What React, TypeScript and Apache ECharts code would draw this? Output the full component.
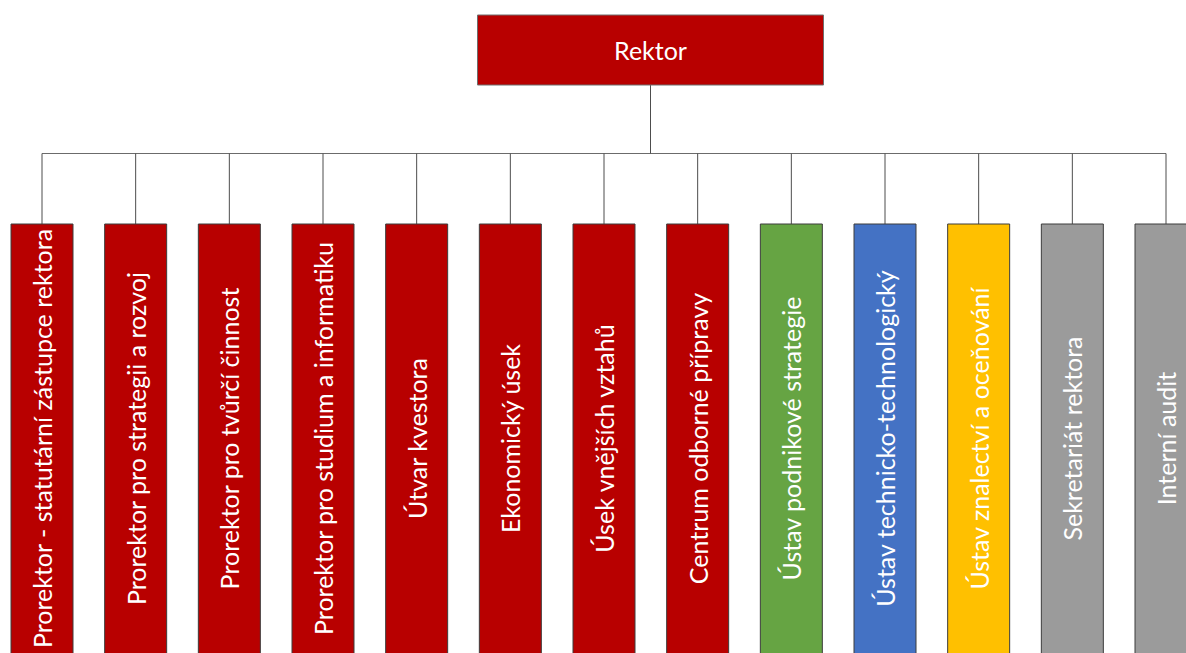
import React, { useEffect, useRef } from "react";
import * as echarts from "echarts";

const topUnit = "Rektor";
const units = [
  "Prorektor - statutární zástupce rektora",
  "Prorektor pro strategii a rozvoj",
  "Prorektor pro tvůrčí činnost",
  "Prorektor pro studium a informatiku",
  "Útvar kvestora",
  "Ekonomický úsek",
  "Úsek vnějších vztahů",
  "Centrum odborné přípravy",
  "Ústav podnikové strategie",
  "Ústav technicko-technologický",
  "Ústav znalectví a oceňování",
  "Sekretariát rektora",
  "Interní audit",
];
const unitTypes = [
  "vedeni", "vedeni", "vedeni", "vedeni", "vedeni", "vedeni", "vedeni", "vedeni",
  "ustavPS", "ustavTT", "ustavZO", "podpora", "podpora",
];

const typeColor: Record<string, string> = {
  vedeni: "#B80000",
  ustavPS: "#66A443",
  ustavTT: "#4472C4",
  ustavZO: "#FFC000",
  podpora: "#9B9B9B",
};

const FONT = "Lato";
const BOX_W = 62;
const BOX_TOP = 224;
const BOX_BOTTOM = 656;
const FORK_Y = 153.5;
const ROOT = { cx: 650.5, top: 15, bottom: 85, w: 346 };

export default function App() {
  const ref = useRef<HTMLDivElement>(null);
  useEffect(() => {
    if (!ref.current) return;
    const chart = echarts.init(ref.current, null, { renderer: "svg" });
    chart.setOption({
      animation: false,
      backgroundColor: "#ffffff",
      grid: { left: 42, right: 20, top: 0, bottom: 0 },
      xAxis: { type: "category", data: units, boundaryGap: false, show: false },
      yAxis: { type: "value", min: 0, max: 1, show: false },
      series: [
        {
          type: "custom",
          silent: true,
          data: [[0, 0]],
          encode: { x: 0, y: 1 },
          renderItem: (params: any, api: any) => {
            const first = api.coord([0, 0])[0];
            const last = api.coord([units.length - 1, 0])[0];
            return {
              type: "group",
              children: [
                {
                  type: "line",
                  shape: { x1: first, y1: FORK_Y, x2: last, y2: FORK_Y },
                  style: { stroke: "#6b6b6b", lineWidth: 1.2 },
                },
                {
                  type: "line",
                  shape: { x1: ROOT.cx, y1: ROOT.bottom, x2: ROOT.cx, y2: FORK_Y },
                  style: { stroke: "#4d4d4d", lineWidth: 1 },
                },
                {
                  type: "rect",
                  shape: { x: ROOT.cx - ROOT.w / 2, y: ROOT.top, width: ROOT.w, height: ROOT.bottom - ROOT.top },
                  style: { fill: typeColor.vedeni, stroke: "#6e6e6e", lineWidth: 1 },
                },
                {
                  type: "text",
                  x: ROOT.cx,
                  y: (ROOT.top + ROOT.bottom) / 2,
                  style: {
                    text: topUnit,
                    fill: "#ffffff",
                    font: `25px ${FONT}`,
                    align: "center",
                    verticalAlign: "middle",
                  },
                },
              ],
            };
          },
        },
        {
          type: "custom",
          silent: true,
          data: units.map((u, i) => [i, 0]),
          encode: { x: 0, y: 1 },
          renderItem: (params: any, api: any) => {
            const i = api.value(0);
            const cx = api.coord([i, 0])[0];
            return {
              type: "group",
              children: [
                {
                  type: "line",
                  shape: { x1: cx, y1: FORK_Y, x2: cx, y2: BOX_TOP },
                  style: { stroke: "#4d4d4d", lineWidth: 1 },
                },
                {
                  type: "rect",
                  shape: { x: cx - BOX_W / 2, y: BOX_TOP, width: BOX_W, height: BOX_BOTTOM - BOX_TOP },
                  style: { fill: typeColor[unitTypes[i]], stroke: "#3c3c3c", lineWidth: 1 },
                },
                {
                  type: "text",
                  x: cx,
                  y: (BOX_TOP + 653) / 2,
                  rotation: Math.PI / 2,
                  style: {
                    text: units[i],
                    fill: "#ffffff",
                    font: `25px ${FONT}`,
                    align: "center",
                    verticalAlign: "middle",
                  },
                },
              ],
            };
          },
        },
      ],
    });
    return () => chart.dispose();
  }, []);
  return (
    <div
      ref={ref}
      style={{ position: "fixed", left: 0, top: 0, width: 1186, height: 653 }}
    />
  );
}
